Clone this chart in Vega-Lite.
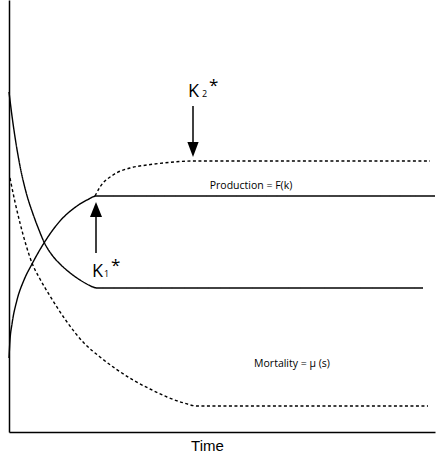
{
  "$schema": "https://vega.github.io/schema/vega-lite/v6.json",
  "width": 426,
  "height": 432,
  "autosize": {"type": "none"},
  "padding": {"left": 9, "top": 0, "right": 1, "bottom": 24},
  "background": "white",
  "config": {"view": {"stroke": null}},
  "datasets": {
    "curves": [
      {"series": "prod_solid", "kind": "solid", "t": 0, "v": 74},
      {"series": "prod_solid", "kind": "solid", "t": 1, "v": 92},
      {"series": "prod_solid", "kind": "solid", "t": 3, "v": 108},
      {"series": "prod_solid", "kind": "solid", "t": 8, "v": 132},
      {"series": "prod_solid", "kind": "solid", "t": 15, "v": 152},
      {"series": "prod_solid", "kind": "solid", "t": 23, "v": 168},
      {"series": "prod_solid", "kind": "solid", "t": 35, "v": 189},
      {"series": "prod_solid", "kind": "solid", "t": 51, "v": 211},
      {"series": "prod_solid", "kind": "solid", "t": 68, "v": 226},
      {"series": "prod_solid", "kind": "solid", "t": 80, "v": 233},
      {"series": "prod_solid", "kind": "solid", "t": 87, "v": 236},
      {"series": "prod_solid", "kind": "solid", "t": 426, "v": 236},
      {"series": "mort_solid", "kind": "solid", "t": 0, "v": 340},
      {"series": "mort_solid", "kind": "solid", "t": 3, "v": 316},
      {"series": "mort_solid", "kind": "solid", "t": 6, "v": 295},
      {"series": "mort_solid", "kind": "solid", "t": 11, "v": 266},
      {"series": "mort_solid", "kind": "solid", "t": 17, "v": 240},
      {"series": "mort_solid", "kind": "solid", "t": 24, "v": 218},
      {"series": "mort_solid", "kind": "solid", "t": 30, "v": 202},
      {"series": "mort_solid", "kind": "solid", "t": 35, "v": 190},
      {"series": "mort_solid", "kind": "solid", "t": 43, "v": 177},
      {"series": "mort_solid", "kind": "solid", "t": 51, "v": 168},
      {"series": "mort_solid", "kind": "solid", "t": 60, "v": 160},
      {"series": "mort_solid", "kind": "solid", "t": 68, "v": 154},
      {"series": "mort_solid", "kind": "solid", "t": 76, "v": 149},
      {"series": "mort_solid", "kind": "solid", "t": 84, "v": 145},
      {"series": "mort_solid", "kind": "solid", "t": 88, "v": 144},
      {"series": "mort_solid", "kind": "solid", "t": 414, "v": 144},
      {"series": "prod_dashed", "kind": "dashed", "t": 86, "v": 236},
      {"series": "prod_dashed", "kind": "dashed", "t": 91, "v": 245},
      {"series": "prod_dashed", "kind": "dashed", "t": 104, "v": 257},
      {"series": "prod_dashed", "kind": "dashed", "t": 121, "v": 264},
      {"series": "prod_dashed", "kind": "dashed", "t": 138, "v": 267},
      {"series": "prod_dashed", "kind": "dashed", "t": 154, "v": 269},
      {"series": "prod_dashed", "kind": "dashed", "t": 184, "v": 271},
      {"series": "prod_dashed", "kind": "dashed", "t": 421, "v": 271},
      {"series": "mort_dashed", "kind": "dashed", "t": 1, "v": 254},
      {"series": "mort_dashed", "kind": "dashed", "t": 6, "v": 230},
      {"series": "mort_dashed", "kind": "dashed", "t": 11, "v": 209},
      {"series": "mort_dashed", "kind": "dashed", "t": 17, "v": 187},
      {"series": "mort_dashed", "kind": "dashed", "t": 23, "v": 169},
      {"series": "mort_dashed", "kind": "dashed", "t": 31, "v": 153},
      {"series": "mort_dashed", "kind": "dashed", "t": 41, "v": 136},
      {"series": "mort_dashed", "kind": "dashed", "t": 58, "v": 110},
      {"series": "mort_dashed", "kind": "dashed", "t": 75, "v": 89},
      {"series": "mort_dashed", "kind": "dashed", "t": 91, "v": 75},
      {"series": "mort_dashed", "kind": "dashed", "t": 107, "v": 63},
      {"series": "mort_dashed", "kind": "dashed", "t": 124, "v": 52},
      {"series": "mort_dashed", "kind": "dashed", "t": 141, "v": 43},
      {"series": "mort_dashed", "kind": "dashed", "t": 158, "v": 35},
      {"series": "mort_dashed", "kind": "dashed", "t": 175, "v": 29},
      {"series": "mort_dashed", "kind": "dashed", "t": 188, "v": 26},
      {"series": "mort_dashed", "kind": "dashed", "t": 419, "v": 26}
    ],
    "arrows": [
      {"name": "K1", "t": 87, "from": 179, "to": 218, "head": 222.5, "dir": "up"},
      {"name": "K2", "t": 184, "from": 326, "to": 286, "head": 282.5, "dir": "down"}
    ],
    "labels": [
      {"text": "K", "t": 83, "v": 155, "size": 18},
      {"text": "1", "t": 95, "v": 155, "size": 9},
      {"text": "*", "t": 102, "v": 161, "size": 17},
      {"text": "K", "t": 179, "v": 335, "size": 18},
      {"text": "2", "t": 193, "v": 335, "size": 9},
      {"text": "*", "t": 200, "v": 341, "size": 17}
    ],
    "notes": [
      {"text": "Production = F(k)", "t": 242, "v": 243},
      {"text": "Mortality = μ (s)", "t": 283, "v": 65}
    ]
  },
  "layer": [
    {
      "data": {"name": "curves"},
      "mark": {"type": "line", "interpolate": "monotone", "color": "black", "strokeWidth": 1.4},
      "encoding": {
        "x": {
          "field": "t", "type": "quantitative",
          "scale": {"domain": [0, 426], "nice": false, "zero": false},
          "axis": {
            "title": "Time", "labels": false, "ticks": false, "grid": false,
            "domainColor": "black", "domainWidth": 1.5,
            "titleFont": "Liberation Sans", "titleFontSize": 15, "titleFontWeight": "normal",
            "titleColor": "black", "titleX": 198, "titleY": 18, "titleBaseline": "alphabetic",
            "titleAnchor": "middle", "titleAlign": "center"
          }
        },
        "y": {
          "field": "v", "type": "quantitative",
          "scale": {"domain": [0, 432], "nice": false, "zero": false},
          "axis": {"title": null, "labels": false, "ticks": false, "grid": false, "domainColor": "black", "domainWidth": 1.5}
        },
        "detail": {"field": "series"},
        "strokeDash": {
          "field": "kind", "type": "nominal",
          "scale": {"domain": ["solid", "dashed"], "range": [[1, 0], [3, 2.5]]},
          "legend": null
        }
      }
    },
    {
      "data": {"name": "arrows"},
      "mark": {"type": "rule", "color": "black", "strokeWidth": 1.5},
      "encoding": {
        "x": {"field": "t", "type": "quantitative"},
        "y": {"field": "from", "type": "quantitative"},
        "y2": {"field": "to"}
      }
    },
    {
      "data": {"name": "arrows"},
      "mark": {"type": "point", "filled": true, "color": "black", "opacity": 1, "size": 225},
      "encoding": {
        "x": {"field": "t", "type": "quantitative"},
        "y": {"field": "head", "type": "quantitative"},
        "shape": {
          "field": "dir", "type": "nominal",
          "scale": {"domain": ["up", "down"], "range": ["M -0.8 1 L 0 -1 L 0.8 1 Z", "M -0.75 -1 L 0 1 L 0.75 -1 Z"]},
          "legend": null
        }
      }
    },
    {
      "data": {"name": "labels"},
      "mark": {"type": "text", "align": "left", "baseline": "alphabetic", "font": "Open Sans", "color": "black"},
      "encoding": {
        "x": {"field": "t", "type": "quantitative"},
        "y": {"field": "v", "type": "quantitative"},
        "text": {"field": "text"},
        "size": {"field": "size", "type": "quantitative", "scale": null}
      }
    },
    {
      "data": {"name": "notes"},
      "mark": {"type": "text", "align": "center", "baseline": "alphabetic", "font": "Open Sans", "fontSize": 10.5, "color": "black"},
      "encoding": {
        "x": {"field": "t", "type": "quantitative"},
        "y": {"field": "v", "type": "quantitative"},
        "text": {"field": "text"}
      }
    }
  ]
}
